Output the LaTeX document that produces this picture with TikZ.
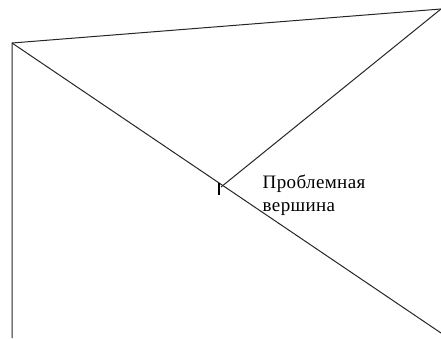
\documentclass[tikz,border=0pt]{standalone}
\usepackage{fontspec}
\setmainfont{Liberation Serif}
\newfontfamily\lblfont[LetterSpace=2]{Liberation Serif}
\tikzset{edge/.style={draw=black!85, line width=1pt}, lbl/.style={font=\lblfont\fontsize{19}{24}\selectfont, inner sep=0pt, anchor=base west}}
\begin{document}
\begin{tikzpicture}[x=1pt,y=-1pt]
\useasboundingbox (0,0) rectangle (441,338);
\coordinate (A) at (12,43);
\coordinate (B) at (441,9);
\coordinate (C) at (12,338);
\coordinate (D) at (441,333);
\coordinate (P) at (221,187);
\draw[edge] (C) -- (A) -- (B);
\draw[edge] (A) -- (D);
\draw[edge] (B) -- (P);
\draw[black, line width=1.6pt] (219,183) -- (219,195);
\node[lbl] (t1) at (262.5,188.3) {Проблемная};
\node[lbl] (t2) at (262.5,211.7) {вершина};
\end{tikzpicture}
\end{document}
